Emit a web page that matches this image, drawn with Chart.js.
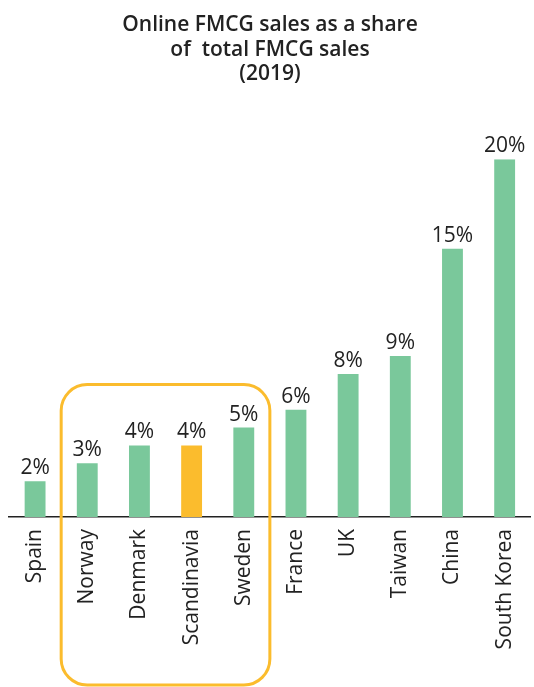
<!DOCTYPE html>
<html>
<head>
<meta charset="utf-8">
<script src="https://cdn.jsdelivr.net/npm/chart.js@4.4.1/dist/chart.umd.min.js"></script>
<style>
  body { margin: 0; background: #fff; }
  #wrap { width: 534px; height: 687px; }
</style>
</head>
<body>
<div id="wrap"><canvas id="myChart" width="534" height="687"></canvas></div>
<script>
const countries = ['Spain', 'Norway', 'Denmark', 'Scandinavia', 'Sweden', 'France', 'UK', 'Taiwan', 'China', 'South Korea'];
const onlineShare = [2, 3, 4, 4, 5, 6, 8, 9, 15, 20];
const titleLines = ['Online FMCG sales as a share', 'of  total FMCG sales', '(2019)'];

const green = '#7ac89b';
const orange = '#fbbc2d';
const barColors = countries.map(c => c === 'Scandinavia' ? orange : green);
const fontFamily = '"Open Sans"';

// percent labels above each bar
const valueLabels = {
  id: 'valueLabels',
  afterDatasetsDraw(chart) {
    const ctx = chart.ctx;
    const meta = chart.getDatasetMeta(0);
    ctx.save();
    ctx.font = '21px ' + fontFamily;
    ctx.fillStyle = '#222';
    ctx.textAlign = 'center';
    ctx.textBaseline = 'alphabetic';
    meta.data.forEach((bar, i) => {
      ctx.fillText(onlineShare[i] + '%', bar.x, bar.y - 7);
    });
    ctx.restore();
  }
};

// rounded frame around the scandinavian countries
const nordicBox = {
  id: 'nordicBox',
  afterDraw(chart) {
    const x = chart.scales.x;
    const y = chart.scales.y;
    const left = (x.getPixelForValue(0) + x.getPixelForValue(1)) / 2;
    const right = (x.getPixelForValue(4) + x.getPixelForValue(5)) / 2;
    const top = y.getPixelForValue(7.4);
    const bottom = chart.height - 2;
    const ctx = chart.ctx;
    ctx.save();
    ctx.strokeStyle = orange;
    ctx.lineWidth = 3;
    ctx.beginPath();
    ctx.roundRect(left, top, right - left, bottom - top, 26);
    ctx.stroke();
    ctx.restore();
  }
};

const ctx = document.getElementById('myChart').getContext('2d');

new Chart(ctx, {
  type: 'bar',
  data: {
    labels: countries,
    datasets: [{
      data: onlineShare,
      backgroundColor: barColors,
      barPercentage: 0.8,
      categoryPercentage: 0.5
    }]
  },
  options: {
    responsive: false,
    animation: false,
    layout: { padding: { left: 9, right: 3, top: 0, bottom: 0 } },
    plugins: {
      legend: { display: false },
      tooltip: { enabled: false },
      title: {
        display: true,
        text: titleLines,
        color: '#222',
        font: { family: fontFamily, size: 21, weight: '600', lineHeight: 1.17 },
        padding: { top: 13, bottom: 72.5 }
      }
    },
    scales: {
      x: {
        grid: { display: false },
        border: { display: true, color: '#222', width: 1.5 },
        ticks: {
          color: '#222',
          font: { family: fontFamily, size: 21 },
          minRotation: 90,
          maxRotation: 90,
          padding: 4
        },
        afterFit(scale) { scale.height = 170; }
      },
      y: {
        display: false,
        min: 0,
        max: 20
      }
    }
  },
  plugins: [valueLabels, nordicBox]
});
</script>
</body>
</html>
